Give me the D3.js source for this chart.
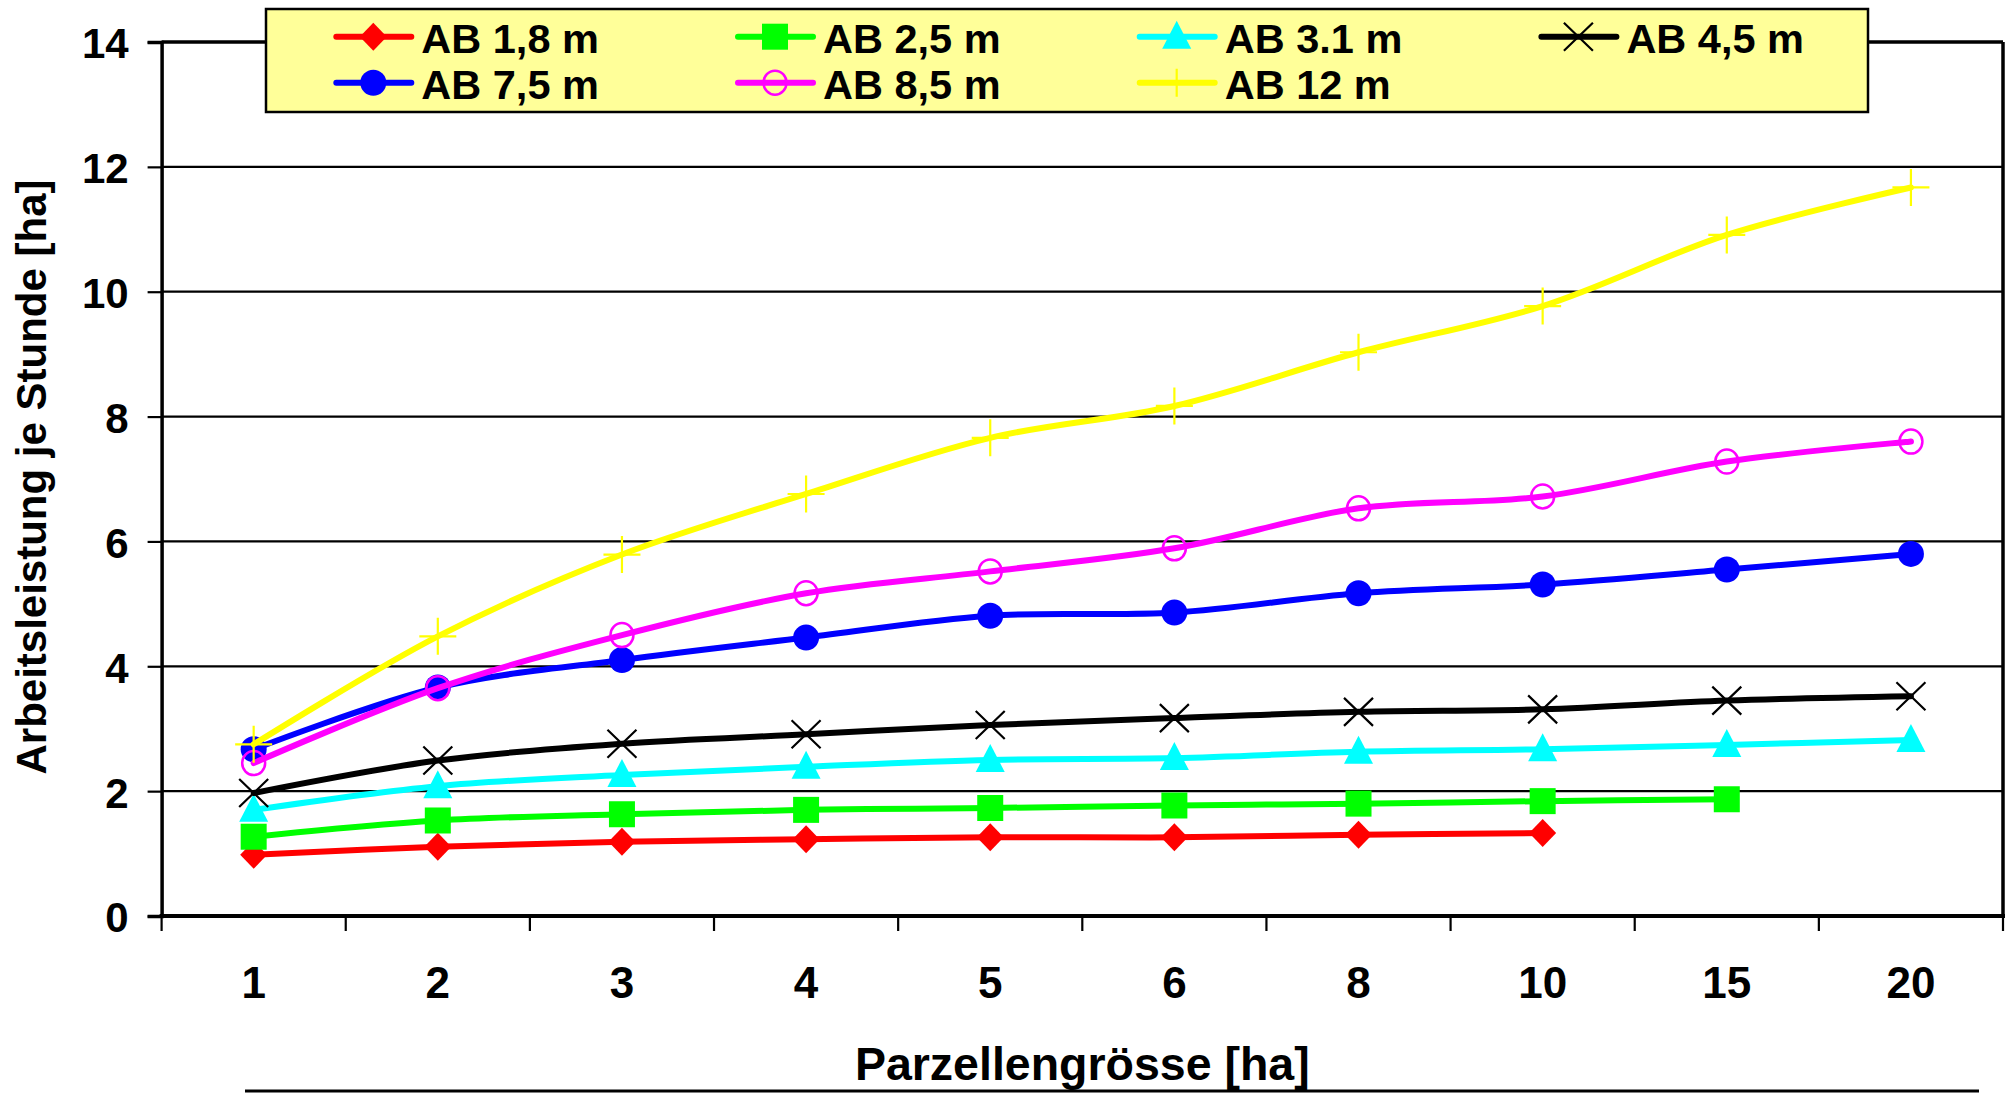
<!DOCTYPE html>
<html><head><meta charset="utf-8">
<script src="https://cdn.jsdelivr.net/npm/d3@7"></script>
<style>
html,body{margin:0;padding:0;background:#fff;}
text{font-family:"Liberation Sans",Arial,sans-serif;font-weight:bold;fill:#000;}
</style></head>
<body>
<svg id="chart" width="2011" height="1096"></svg>
<script>
// ---- data ----
const categories = ["1","2","3","4","5","6","8","10","15","20"];
const yTicks = [0,2,4,6,8,10,12,14];
const seriesNames = ["AB 1,8 m","AB 2,5 m","AB 3.1 m","AB 4,5 m","AB 7,5 m","AB 8,5 m","AB 12 m"];
const ab18 = [0.98,1.11,1.19,1.23,1.26,1.26,1.30,1.33];
const ab25 = [1.27,1.53,1.63,1.70,1.73,1.77,1.80,1.84,1.87];
const ab31 = [1.70,2.08,2.26,2.39,2.50,2.53,2.63,2.67,2.74,2.82];
const ab45 = [1.97,2.49,2.76,2.91,3.06,3.17,3.27,3.31,3.45,3.52];
const ab75 = [2.67,3.66,4.10,4.46,4.81,4.86,5.17,5.31,5.55,5.80];
const ab85 = [2.45,3.65,4.50,5.17,5.52,5.89,6.53,6.72,7.28,7.60];
const ab12 = [2.75,4.48,5.79,6.76,7.66,8.17,9.03,9.77,10.91,11.67];
const xTitle = "Parzellengrösse [ha]";
const yTitle = "Arbeitsleistung je Stunde [ha]";

// ---- styles ----
const styles = [
  {color:"#FF0000", marker:"diamond"},
  {color:"#00FF00", marker:"square"},
  {color:"#00FFFF", marker:"triangle"},
  {color:"#000000", marker:"x"},
  {color:"#0000FF", marker:"circle"},
  {color:"#FF00FF", marker:"ocircle"},
  {color:"#FFFF00", marker:"plus"}
];
const allValues = [ab18,ab25,ab31,ab45,ab75,ab85,ab12];

const svg = d3.select("#chart");
const L = 161.6, R = 2003, T = 42, B = 916;

const x = d3.scaleBand().domain(categories).range([L,R]).padding(0);
const y = d3.scaleLinear().domain([0,14]).range([B,T]);

// gridlines
svg.append("g").selectAll("line").data(yTicks.filter(d=>d>0 && d<14)).join("line")
  .attr("x1",L).attr("x2",R).attr("y1",d=>y(d)).attr("y2",d=>y(d))
  .attr("stroke","#000").attr("stroke-width",2.2);

// frame top & right
svg.append("line").attr("x1",L).attr("x2",R).attr("y1",y(14)).attr("y2",y(14)).attr("stroke","#000").attr("stroke-width",3.5);
svg.append("line").attr("x1",R).attr("x2",R).attr("y1",y(14)).attr("y2",y(0)).attr("stroke","#000").attr("stroke-width",3.5);

// y axis
const yAxis = d3.axisLeft(y).tickValues(yTicks).tickSize(14).tickPadding(0).tickFormat(d3.format("d"));
const gy = svg.append("g").attr("transform",`translate(${L},0)`).call(yAxis);
gy.select(".domain").attr("stroke","#000").attr("stroke-width",3.5);
gy.selectAll(".tick line").attr("stroke","#000").attr("stroke-width",2.2);
gy.selectAll(".tick text").attr("x",-33).attr("dy","0.38em").attr("font-size",42)
  .style("font-family","'Liberation Sans',Arial,sans-serif").style("font-weight","bold").attr("fill","#000");

// x axis
const gx = svg.append("g").attr("transform",`translate(0,${B})`);
gx.append("line").attr("x1",L-2).attr("x2",R+2).attr("y1",0).attr("y2",0).attr("stroke","#000").attr("stroke-width",4);
const edges = categories.map(c=>x(c)).concat([x(categories[categories.length-1])+x.bandwidth()]);
gx.selectAll("line.tk").data(edges).join("line").attr("class","tk")
  .attr("x1",d=>d).attr("x2",d=>d).attr("y1",0).attr("y2",15).attr("stroke","#000").attr("stroke-width",2.2);
gx.selectAll("text").data(categories).join("text")
  .attr("x",d=>x(d)+x.bandwidth()/2).attr("y",82).attr("text-anchor","middle").attr("font-size",44).text(d=>d);

// titles
svg.append("text").attr("x",(L+R)/2).attr("y",1080).attr("text-anchor","middle").attr("font-size",46.5).text(xTitle);
svg.append("text").attr("transform","translate(46,477) rotate(-90)").attr("text-anchor","middle").attr("font-size",42).text(yTitle);
svg.append("line").attr("x1",245).attr("x2",1979).attr("y1",1091).attr("y2",1091).attr("stroke","#000").attr("stroke-width",3);

// marker drawing
function drawMarker(g, type, color, cx, cy, plusSize){
  if(type==="diamond"){
    g.append("path").attr("d",`M${cx},${cy-14}L${cx+13.5},${cy}L${cx},${cy+14}L${cx-13.5},${cy}Z`).attr("fill",color);
  } else if(type==="square"){
    g.append("rect").attr("x",cx-13).attr("y",cy-13).attr("width",26).attr("height",26).attr("fill",color);
  } else if(type==="triangle"){
    g.append("path").attr("d",`M${cx},${cy-16}L${cx+14.5},${cy+12}L${cx-14.5},${cy+12}Z`).attr("fill",color);
  } else if(type==="x"){
    g.append("path").attr("d",`M${cx-14.5},${cy-14}L${cx+14.5},${cy+14}M${cx+14.5},${cy-14}L${cx-14.5},${cy+14}`)
      .attr("stroke",color).attr("stroke-width",2.2).attr("fill","none");
  } else if(type==="circle"){
    g.append("ellipse").attr("cx",cx).attr("cy",cy).attr("rx",13).attr("ry",13).attr("fill",color);
  } else if(type==="ocircle"){
    g.append("ellipse").attr("cx",cx).attr("cy",cy).attr("rx",11.5).attr("ry",12).attr("fill","none").attr("stroke",color).attr("stroke-width",2.5);
  } else if(type==="plus"){
    const h = plusSize/2;
    g.append("path").attr("d",`M${cx-h},${cy}L${cx+h},${cy}M${cx},${cy-h}L${cx},${cy+h}`)
      .attr("stroke",color).attr("stroke-width",2.2).attr("fill","none");
  }
}

// series
const line = d3.line().x(d=>x(d.c)+x.bandwidth()/2).y(d=>y(d.v)).curve(d3.curveCatmullRom.alpha(0.5));
allValues.forEach((vals,i)=>{
  const st = styles[i];
  const pts = vals.map((v,j)=>({c:categories[j],v:v}));
  const g = svg.append("g");
  g.append("path").datum(pts).attr("d",line).attr("fill","none").attr("stroke",st.color)
    .attr("stroke-width",6).attr("stroke-linejoin","round").attr("stroke-linecap","round");
  pts.forEach(p=>drawMarker(g, st.marker, st.color, x(p.c)+x.bandwidth()/2, y(p.v), 37));
});

// legend
const lg = svg.append("g");
lg.append("rect").attr("x",266).attr("y",9).attr("width",1602).attr("height",103)
  .attr("fill","#FFFF99").attr("stroke","#000").attr("stroke-width",2.5);
seriesNames.forEach((name,i)=>{
  const col = i<4 ? i : i-4, row = i<4 ? 0 : 1;
  const cx = 373.3 + col*401.7, cy = 36.7 + row*46;
  const st = styles[i];
  lg.append("line").attr("x1",cx-37).attr("x2",cx+38).attr("y1",cy).attr("y2",cy)
    .attr("stroke",st.color).attr("stroke-width",6).attr("stroke-linecap","round");
  drawMarker(lg, st.marker, st.color, cx, cy, 28);
  lg.append("text").attr("x",cx+48).attr("y",cy+16.5).attr("font-size",41.5).text(name);
});
</script>
</body></html>
